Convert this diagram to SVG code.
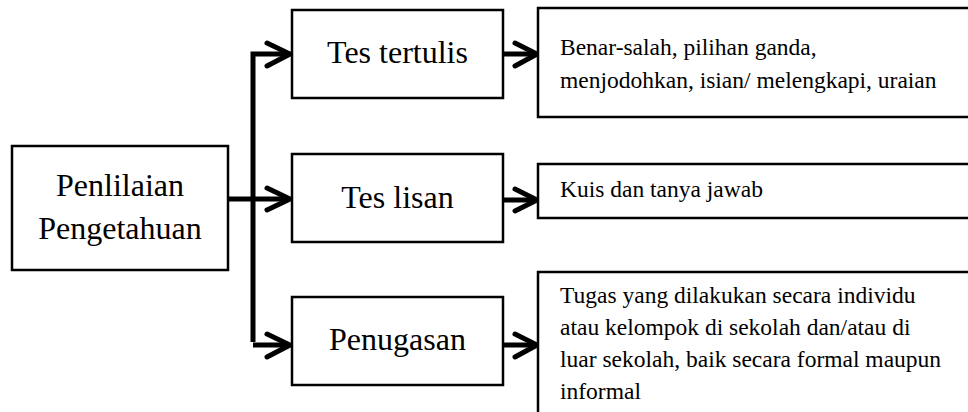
<svg xmlns="http://www.w3.org/2000/svg" width="968" height="412" viewBox="0 0 968 412">
<style>
.box{fill:#fff;stroke:#000;stroke-width:2.5}
.lbl{font-family:'Times New Roman','Liberation Serif',Times,serif;font-size:32px;fill:#000;text-anchor:middle}
.desc{font-family:'Times New Roman','Liberation Serif',Times,serif;font-size:23.5px;fill:#000}
.ln{fill:none;stroke:#000;stroke-width:5}
.hd{fill:none;stroke:#000;stroke-width:5;stroke-linecap:round;stroke-linejoin:miter}
</style>
<rect width="968" height="412" fill="#fff"/>
<g id="connectors">
<path class="ln" d="M228,199 H288"/>
<path class="ln" d="M253,342 V54 H288"/>
<path class="ln" d="M253,345 H288"/>
<path class="hd" d="M267,43 L290,54 L267,66"/>
<path class="hd" d="M267,188 L290,199 L267,210"/>
<path class="hd" d="M267,334 L290,345 L267,357"/>
<path class="ln" d="M503,54 H536"/>
<path class="ln" d="M503,200 H536"/>
<path class="ln" d="M503,345 H536"/>
<path class="hd" d="M515,43 L537,54 L515,66"/>
<path class="hd" d="M515,189 L537,200 L515,211"/>
<path class="hd" d="M515,334 L537,345 L515,357"/>
</g>
<g id="main">
<rect class="box" x="12" y="146" width="216" height="124"/>
<text class="lbl" x="120" y="196" font-family="Liberation Serif">Penlilaian</text>
<text class="lbl" x="120" y="239" font-family="Liberation Serif">Pengetahuan</text>
</g>
<g id="tes-tertulis">
<rect class="box" x="292" y="10" width="211" height="88"/>
<text class="lbl" x="397.5" y="63">Tes tertulis</text>
</g>
<g id="tes-lisan">
<rect class="box" x="292" y="154" width="211" height="88"/>
<text class="lbl" x="397.5" y="208">Tes lisan</text>
</g>
<g id="penugasan">
<rect class="box" x="292" y="297" width="211" height="88"/>
<text class="lbl" x="397.5" y="350">Penugasan</text>
</g>
<g id="desc-tertulis">
<rect class="box" x="538" y="8" width="440" height="109"/>
<text class="desc" x="560" y="55">Benar-salah, pilihan ganda,</text>
<text class="desc" x="560" y="88">menjodohkan, isian/ melengkapi, uraian</text>
</g>
<g id="desc-lisan">
<rect class="box" x="538" y="164" width="440" height="54"/>
<text class="desc" x="560" y="197">Kuis dan tanya jawab</text>
</g>
<g id="desc-penugasan">
<rect class="box" x="538" y="272" width="440" height="160"/>
<text class="desc" x="560" y="303">Tugas yang dilakukan secara individu</text>
<text class="desc" x="560" y="335">atau kelompok di sekolah dan/atau di</text>
<text class="desc" x="560" y="367">luar sekolah, baik secara formal maupun</text>
<text class="desc" x="560" y="399">informal</text>
</g>
</svg>
